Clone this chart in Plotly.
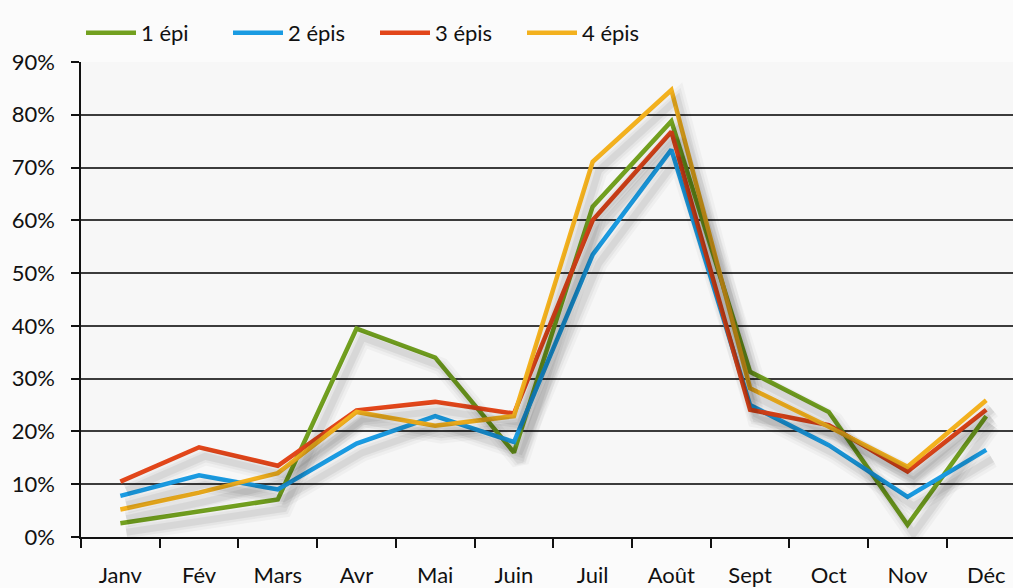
import plotly.graph_objects as go

months = ["Janv", "Fév", "Mars", "Avr", "Mai", "Juin", "Juil", "Août", "Sept", "Oct", "Nov", "Déc"]
series_names = ["1 épi", "2 épis", "3 épis", "4 épis"]
epi1 = [0.026, 0.049, 0.071, 0.395, 0.340, 0.160, 0.626, 0.788, 0.313, 0.237, 0.023, 0.229]
epi2 = [0.078, 0.117, 0.090, 0.177, 0.229, 0.180, 0.535, 0.734, 0.250, 0.174, 0.076, 0.165]
epi3 = [0.105, 0.170, 0.135, 0.240, 0.256, 0.234, 0.600, 0.768, 0.241, 0.212, 0.124, 0.241]
epi4 = [0.052, 0.084, 0.121, 0.237, 0.211, 0.229, 0.711, 0.847, 0.282, 0.209, 0.133, 0.259]
colors = ["#72a01f", "#1a9be2", "#e2461a", "#f3b11e"]

W, H = 1013, 588
L, R, T, B = 81, 0, 62, 51
xr = [-0.5, 11.34]
yr = [0, 0.9]
px_x = (W - L - R) / (xr[1] - xr[0])
px_y = (H - T - B) / (yr[1] - yr[0])

fig = go.Figure()
all_series = [epi1, epi2, epi3, epi4]

# soft drop shadows, drawn on shifted overlay axes
dx, dy = 6, 9
for vals in all_series:
    for w, a in [(18, 0.03), (12, 0.04), (7, 0.06)]:
        fig.add_trace(go.Scatter(x=months, y=vals, mode="lines", xaxis="x2", yaxis="y2",
                                 line=dict(color=f"rgba(0,0,0,{a})", width=w),
                                 showlegend=False, hoverinfo="skip"))

for name, vals, c in zip(series_names, all_series, colors):
    fig.add_trace(go.Scatter(x=months, y=vals, mode="lines", name=name,
                             line=dict(color=c, width=4.5)))

font = dict(family="Lato, 'Open Sans', sans-serif", size=22, color="#111")
fig.update_layout(
    width=W, height=H,
    margin=dict(l=L, r=R, t=T, b=B, autoexpand=False),
    paper_bgcolor="#fbfbfb", plot_bgcolor="#f7f7f7",
    font=font,
    showlegend=True,
    legend=dict(orientation="h", x=0.0, xanchor="left", y=1 - 33 / H, yref="container",
                yanchor="middle", font=font, bgcolor="rgba(0,0,0,0)",
                entrywidth=82, entrywidthmode="pixels", itemwidth=50),
    xaxis=dict(type="category", categoryorder="array", categoryarray=months, range=xr,
               automargin=False,
               showgrid=False, zeroline=False, showline=True, linecolor="#111", linewidth=1.5,
               ticks="outside", tickson="boundaries", ticklen=9, tickcolor="#111", tickwidth=1.5,
               ticklabelstandoff=18),
    yaxis=dict(range=yr, tickformat=".0%", dtick=0.1, tick0=0, automargin=False,
               showgrid=True, gridcolor="#3c3c3c", gridwidth=1.6, zeroline=False,
               showline=True, linecolor="#111", linewidth=1.5,
               ticks="outside", ticklen=8, tickcolor="#111", tickwidth=1.5,
               ticklabelstandoff=12),
    xaxis2=dict(type="category", categoryorder="array", categoryarray=months,
                range=[xr[0] - dx / px_x, xr[1] - dx / px_x], overlaying="x", visible=False),
    yaxis2=dict(range=[yr[0] + dy / px_y, yr[1] + dy / px_y], overlaying="y", visible=False),
)

fig.write_html("out.html", config={"displayModeBar": False},
               post_script="document.body.style.margin='0';document.body.style.overflow='hidden';")
